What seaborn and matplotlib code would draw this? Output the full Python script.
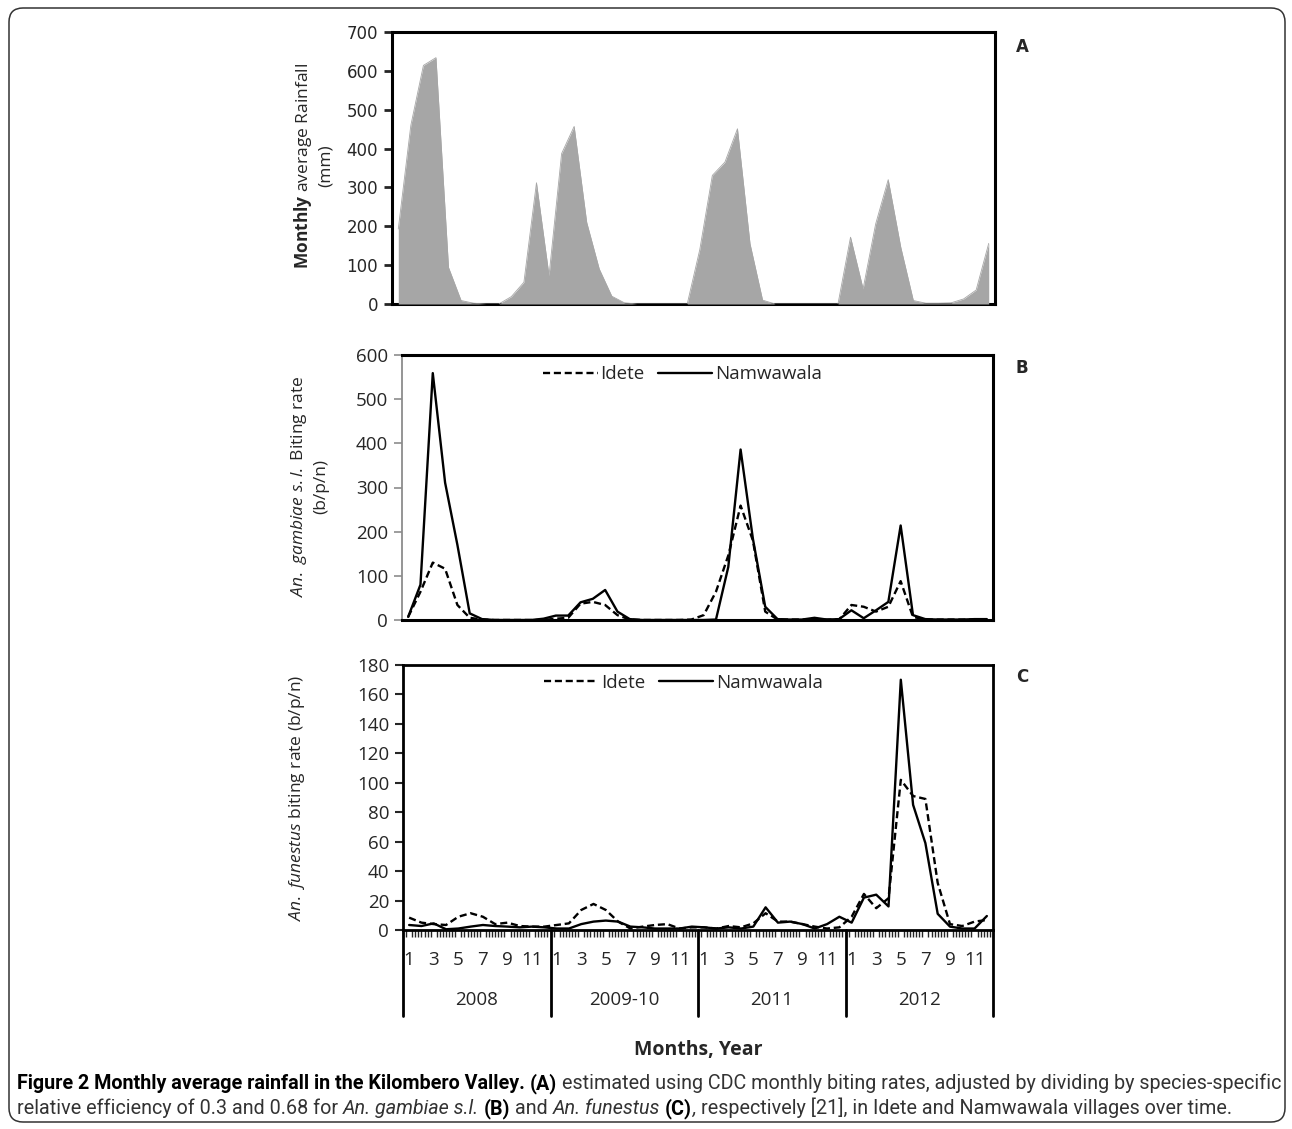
import numpy as np
import pandas as pd
import seaborn as sns
import matplotlib.pyplot as plt
from matplotlib.patches import FancyBboxPatch
from matplotlib.transforms import IdentityTransform

# 4 sampling blocks x 12 months
years = ['2008', '2009-10', '2011', '2012']
month_ticks = ['1', '3', '5', '7', '9', '11']
sites = ['Idete', 'Namwawala']

# monthly average rainfall (mm)
rainfall = [193, 460, 614, 634, 94, 9, 2, 0, 0, 19, 56, 312,
            73, 387, 457, 210, 90, 20, 3, 0, 0, 0, 0, 0,
            140, 331, 365, 451, 155, 10, 0, 0, 0, 0, 0, 0,
            172, 39, 206, 320, 146, 9, 2, 2, 3, 13, 36, 156]

# An. gambiae s.l. biting rate (b/p/n)
gambiae_idete = [7, 64, 130, 116, 34, 5, 1, 0, 0, 0, 0, 0,
                 3, 5, 37, 41, 34, 11, 1, 0, 0, 0, 0, 1,
                 11, 64, 146, 259, 180, 19, 1, 1, 1, 1, 1, 1,
                 34, 30, 19, 30, 88, 7, 1, 1, 1, 1, 1, 1]
gambiae_namwawala = [7, 80, 559, 311, 170, 15, 2, 0, 0, 0, 0, 3,
                     10, 10, 40, 48, 68, 19, 2, 0, 0, 0, 0, 0,
                     0, 1, 120, 386, 184, 30, 2, 1, 1, 5, 1, 2,
                     22, 4, 22, 41, 214, 11, 2, 1, 1, 1, 2, 2]

# An. funestus biting rate (b/p/n)
funestus_idete = [8.4, 5, 4, 3.4, 9, 11.4, 9, 4, 5, 2.7, 2.3, 2.3,
                  3.4, 4.5, 13.6, 17.7, 13.6, 5.7, 1, 2.3, 3.4, 4, 1, 1.8,
                  1.8, 1, 2.7, 1.8, 4.5, 11.4, 5.7, 5.7, 4, 2.3, 1, 1.8,
                  9, 24.5, 14.8, 21.6, 102, 91, 89, 32, 4, 2.7, 5.7, 6.8]
funestus_namwawala = [3.4, 2.7, 4.5, 0.5, 1, 2.3, 3.4, 2.7, 2.3, 1.8, 2.3, 1.8,
                      1, 1, 4, 5.7, 6.4, 5.7, 2.3, 1.8, 1, 1, 1, 2.3,
                      1.8, 1, 1.8, 1, 2.3, 15.4, 5, 5.7, 4, 1, 4, 9,
                      5, 22, 24, 16, 170, 85, 59, 11, 2.3, 1, 1, 9.5]

n = len(rainfall)
idx = np.arange(n)


def long_df(idete, namwawala):
    return pd.DataFrame({
        'month': np.concatenate([idx, idx]),
        'rate': idete + namwawala,
        'site': ['Idete'] * n + ['Namwawala'] * n,
    })


W, H = 1292, 1129
sns.set_style('ticks')
plt.rcParams['font.family'] = ['Open Sans', 'DejaVu Sans']
plt.rcParams['mathtext.fontset'] = 'custom'
plt.rcParams['mathtext.rm'] = 'Open Sans'
plt.rcParams['mathtext.it'] = 'Open Sans:italic'
plt.rcParams['mathtext.bf'] = 'Open Sans:bold'

fig = plt.figure(figsize=(W / 100, H / 100), dpi=100)


def box(l, t, r, b):
    return [l / W, 1 - b / H, (r - l) / W, (b - t) / H]


ax_a = fig.add_axes(box(392, 32, 995, 304))
ax_b = fig.add_axes(box(402, 355, 993, 620))
ax_c = fig.add_axes(box(403, 665, 993, 930))

# ---- panel A: rainfall area
sns.lineplot(x=idx, y=rainfall, color='#a6a6a6', lw=0.6, ax=ax_a, zorder=3)
ax_a.fill_between(idx, rainfall, color='#a6a6a6', lw=0, zorder=3)
ax_a.set_xlim(-0.5, n - 0.5)
ax_a.set_ylim(0, 700)
ax_a.set_yticks(range(0, 701, 100))
ax_a.set_xticks([])
ax_a.tick_params(axis='y', direction='out', length=6, width=2, labelsize=12, pad=4,
                 labelfontfamily='DejaVu Sans')
for s in ax_a.spines.values():
    s.set_linewidth(2.2)
    s.set_color('black')

# ---- panel B: An. gambiae
dash_map = {'Idete': (3, 1.6), 'Namwawala': ''}
sns.lineplot(data=long_df(gambiae_idete, gambiae_namwawala), x='month', y='rate',
             style='site', style_order=sites, dashes=dash_map, color='black',
             lw=1.7, ax=ax_b)
ax_b.set_xlim(-0.5, n - 0.5)
ax_b.set_ylim(0, 600)
ax_b.set_yticks(range(0, 601, 100))
ax_b.set_xticks([])
ax_b.set_xlabel('')
ax_b.set_ylabel('')
ax_b.tick_params(axis='y', direction='out', length=6, width=1.2, labelsize=13.5,
                 color='#8c8c8c', pad=4)
for s in ax_b.spines.values():
    s.set_linewidth(2.2)
    s.set_color('black')
ax_b.spines['left'].set_color('#8c8c8c')
ax_b.spines['left'].set_linewidth(1.3)
sns.move_legend(ax_b, 'upper center', bbox_to_anchor=(0.475, 1.025), ncol=2,
                frameon=False, title=None, fontsize=13.5, handlelength=2.9,
                handletextpad=0.15, columnspacing=0.7)

# ---- panel C: An. funestus
sns.lineplot(data=long_df(funestus_idete, funestus_namwawala), x='month', y='rate',
             style='site', style_order=sites, dashes=dash_map, color='black',
             lw=1.7, ax=ax_c)
ax_c.set_xlim(-0.5, n - 0.5)
ax_c.set_ylim(0, 180)
ax_c.set_yticks(range(0, 181, 20))
ax_c.set_xticks(idx[::2])
ax_c.set_xticklabels(month_ticks * len(years))
ax_c.set_xticks(np.arange(-0.5, n - 0.4, 0.25), minor=True)
ax_c.set_xlabel('')
ax_c.set_ylabel('')
ax_c.tick_params(axis='y', direction='out', length=6, width=1.5, labelsize=13.5, pad=4)
ax_c.tick_params(axis='x', which='major', length=0, labelsize=13.5, pad=15)
ax_c.tick_params(axis='x', which='minor', direction='out', length=5, width=1)
for s in ax_c.spines.values():
    s.set_linewidth(2)
    s.set_color('black')
sns.move_legend(ax_c, 'upper center', bbox_to_anchor=(0.475, 1.03), ncol=2,
                frameon=False, title=None, fontsize=13.5, handlelength=2.9,
                handletextpad=0.15, columnspacing=0.7)

# year groups under the month labels
xt = ax_c.get_xaxis_transform()
sep_depth = (1016 - 930) / (930 - 665)
for k, yr in enumerate(years):
    ax_c.text(k * 12 + 5.5, -(1000 - 930) / (930 - 665), yr, transform=xt,
              ha='center', va='center', fontsize=13.5)
for k in range(len(years) + 1):
    b = k * 12 - 0.5
    ax_c.plot([b, b], [0, -sep_depth], transform=xt, clip_on=False,
              color='black', lw=2)

fig.text(698 / W, 1 - 1050 / H, 'Months, Year', ha='center', va='center',
         fontsize=14, fontweight='bold')

# y labels
fig.text(313 / W, 1 - 166 / H, r'$\mathbf{Monthly}$ average Rainfall' + '\n(mm)',
         rotation=90, ha='center', va='center', multialignment='center',
         fontsize=12.5, linespacing=1.35)
fig.text(309 / W, 1 - 486 / H, r'$An.\ gambiae\ s.l.$ Biting rate' + '\n(b/p/n)',
         rotation=90, ha='center', va='center', multialignment='center',
         fontsize=12.5, linespacing=1.35)
fig.text(297 / W, 1 - 798 / H, r'$An.\ funestus$ biting rate (b/p/n)',
         rotation=90, ha='center', va='center', fontsize=12.5)

# panel letters
for letter, ypx in zip('ABC', [47, 368, 677]):
    fig.text(1022 / W, 1 - ypx / H, letter, ha='center', va='center',
             fontsize=12, fontweight='bold', family='DejaVu Sans')

# outer rounded frame
frame = FancyBboxPatch((9, 7), 1276, 1114, boxstyle='round,pad=0,rounding_size=14',
                       transform=IdentityTransform(), fill=False, ec='#333333', lw=1.1)
fig.add_artist(frame)

# caption with mixed styles
cap_font = ['Liberation Sans Narrow', 'Roboto', 'DejaVu Sans']
styles = {
    'b': dict(fontweight='bold', color='black'),
    'r': dict(fontweight='normal', color='#333333'),
    'i': dict(fontweight='normal', fontstyle='italic', color='#333333'),
}
line1 = [('Figure 2 Monthly average rainfall in the Kilombero Valley.', 'b', 1),
         ('(A)', 'b', 1),
         ('estimated using CDC monthly biting rates, adjusted by dividing by species-specific', 'r', 0)]
line2 = [('relative efficiency of 0.3 and 0.68 for', 'r', 1),
         ('An. gambiae s.l.', 'i', 1),
         ('(B)', 'b', 1),
         ('and', 'r', 1),
         ('An. funestus', 'i', 1),
         ('(C)', 'b', 0),
         (',', 'i', 1),
         ('respectively [21], in Idete and Namwawala villages over time.', 'r', 0)]

renderer = fig.canvas.get_renderer()


def run_width(runs, size, draw=False, y_px=0):
    t = fig.text(0, 0, 'n n', fontsize=size, family=cap_font)
    t2 = fig.text(0, 0, 'nn', fontsize=size, family=cap_font)
    space = t.get_window_extent(renderer).width - t2.get_window_extent(renderer).width
    t.remove()
    t2.remove()
    x = 17
    for text, st, gap in runs:
        tt = fig.text(x / W, 1 - y_px / H, text, fontsize=size, family=cap_font,
                      ha='left', va='baseline', **styles[st])
        x += tt.get_window_extent(renderer).width + gap * space
        if not draw:
            tt.remove()
    return x - 17


w0 = run_width(line1, 12)
size = 12 * 1258 / w0
run_width(line1, size, draw=True, y_px=1089)
run_width(line2, size, draw=True, y_px=1114)

fig.savefig('out.png', dpi=100)
